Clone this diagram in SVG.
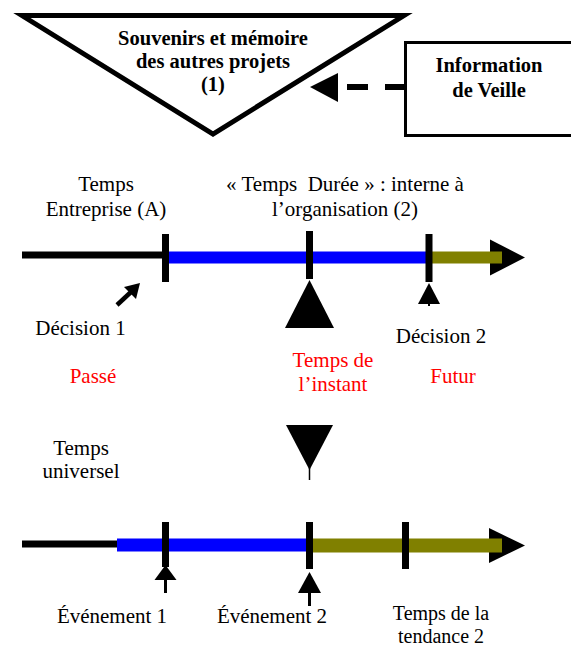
<svg xmlns="http://www.w3.org/2000/svg" width="571" height="648" viewBox="0 0 571 648">
<style>
  .t { font-family: "Liberation Serif", "Times New Roman", "DejaVu Serif", serif; font-size: 21px; fill: #000; text-anchor: middle; }
  .s { font-size: 20px; }
  .b { font-family: "Liberation Serif", "Times New Roman", "DejaVu Serif", serif; font-size: 20.5px; font-weight: bold; fill: #000; text-anchor: middle; }
  .red { fill: #ff0000; }
  .tick { fill: #000; }
  .blue { fill: #0000ff; }
  .olive { fill: #808000; }
</style>
<rect width="571" height="648" fill="#fff"/>

<g id="memoire">
  <polygon points="22,15.5 404,15.5 213,134" fill="#fff" stroke="#000" stroke-width="5"/>
  <text class="b" x="213" y="45">Souvenirs et mémoire</text>
  <text class="b" x="213" y="68">des autres projets</text>
  <text class="b" x="213" y="91">(1)</text>
</g>

<g id="veille">
  <rect x="405.5" y="42.5" width="180" height="93" fill="#fff" stroke="#000" stroke-width="3"/>
  <text class="b" x="489" y="72">Information</text>
  <text class="b" x="489" y="97">de Veille</text>
</g>

<g id="timeline-entreprise">
  <rect x="22" y="251.5" width="143" height="7" fill="#000"/>
  <polygon points="490,239.5 525,257.5 490,275.5" fill="#000"/>
  <rect class="blue" x="165" y="251.5" width="264" height="12"/>
  <rect class="olive" x="429" y="251.5" width="73" height="12"/>
  <rect class="tick" x="162" y="234" width="7" height="48"/>
  <rect class="tick" x="306" y="231" width="7" height="48"/>
  <rect class="tick" x="425.5" y="234" width="7" height="48"/>
</g>

<g id="timeline-universel">
  <rect x="22" y="540.5" width="96" height="7" fill="#000"/>
  <polygon points="489,528 525,545.5 489,563" fill="#000"/>
  <rect class="blue" x="117" y="538.5" width="193" height="13"/>
  <rect class="olive" x="310" y="538.5" width="192" height="14"/>
  <rect class="tick" x="162" y="522" width="7" height="45"/>
  <rect class="tick" x="306" y="522" width="7" height="47"/>
  <rect class="tick" x="402" y="522" width="7" height="47"/>
</g>

<g id="instant">
  <polygon points="309.5,280 285,328 334,328" fill="#000"/>
  <polygon points="286,425 333,425 309.5,470" fill="#000"/>
  <line x1="309.5" y1="468" x2="309.5" y2="480" stroke="#000" stroke-width="1.5"/>
  <text class="t red" x="333" y="367">Temps de</text>
  <text class="t red" x="333" y="391">l’instant</text>
</g>

<g id="connectors">
  <g id="dashed-arrow">
    <line x1="347" y1="87" x2="405" y2="87" stroke="#000" stroke-width="6" stroke-dasharray="21,17"/>
    <polygon points="310,87 338,73 338,102" fill="#000"/>
  </g>
  <g id="arrow-decision1">
    <line x1="117" y1="305" x2="131" y2="292" stroke="#000" stroke-width="4.5"/>
    <polygon points="140,283 136,299 124,287" fill="#000"/>
  </g>
  <g id="arrow-decision2">
    <polygon points="429,283 418,304 440,304" fill="#000"/>
    <line x1="429" y1="303" x2="429" y2="306" stroke="#000" stroke-width="2"/>
  </g>
  <g id="arrow-evenement1">
    <polygon points="165.5,565 154.5,580 176.5,580" fill="#000"/>
    <line x1="165.5" y1="579" x2="165.5" y2="593" stroke="#000" stroke-width="3"/>
  </g>
  <g id="arrow-evenement2">
    <polygon points="309.5,572 298,593 321,593" fill="#000"/>
    <line x1="309.5" y1="592" x2="309.5" y2="606" stroke="#000" stroke-width="3"/>
  </g>
</g>

<g id="labels">
  <text class="t" x="106" y="191">Temps</text>
  <text class="t" x="106" y="216">Entreprise (A)</text>
  <text class="t" x="345" y="191" xml:space="preserve">« Temps  Durée » : interne à</text>
  <text class="t" x="345" y="216">l’organisation (2)</text>
  <text class="t" x="80.5" y="335">Décision 1</text>
  <text class="t" x="441" y="343">Décision 2</text>
  <text class="t red" x="93" y="383">Passé</text>
  <text class="t red" x="453" y="383">Futur</text>
  <text class="t" x="81" y="455">Temps</text>
  <text class="t" x="81" y="478">universel</text>
  <text class="t" x="112" y="623">Événement 1</text>
  <text class="t" x="272" y="623">Événement 2</text>
  <text class="t s" x="441" y="620">Temps de la</text>
  <text class="t s" x="441" y="643">tendance 2</text>
</g>
</svg>
